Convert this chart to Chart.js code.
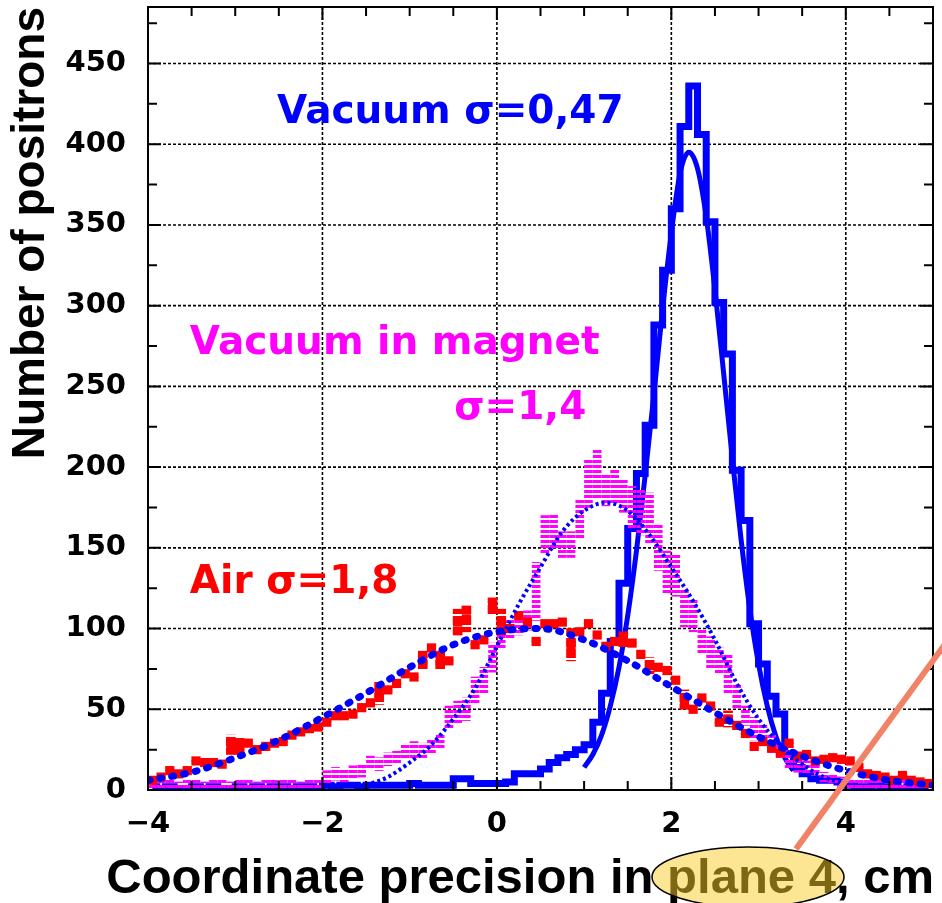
<!DOCTYPE html>
<html>
<head>
<meta charset="utf-8">
<script src="https://cdn.jsdelivr.net/npm/chart.js@4/dist/chart.umd.min.js"></script>
<style>
  body { margin: 0; background: #fff; }
  canvas { display: block; }
</style>
</head>
<body>
<canvas id="precisionChart" width="942" height="903"></canvas>
<script>
// Histograms use 0.1 cm bins from -4 to 5 cm (90 bins)
const vacuumCounts = [
  2, 1, 2, 1, 1, 2, 1, 2, 1, 1, 2, 1, 2, 1, 2, 2, 1, 2, 2, 1,
  3, 2, 3, 3, 2, 3, 3, 3, 3, 3, 4, 3, 3, 3, 3, 7, 7, 4, 4, 4,
  4, 5, 10, 10, 10, 13, 17, 20, 22, 25, 28, 42, 60, 92, 128, 162, 196, 226, 288, 322,
  360, 411, 436, 406, 352, 302, 270, 198, 167, 103, 78, 58, 47, 22, 14, 10, 7, 6, 6, 5,
  3, 2, 2, 3, 2, 2, 1, 2, 2, 1
];

const magnetCounts = [
  2, 3, 4, 2, 3, 3, 2, 4, 3, 2, 3, 4, 2, 3, 3, 4, 3, 2, 3, 4,
  8, 10, 9, 11, 12, 17, 16, 19, 20, 24, 25, 24, 27, 30, 45, 48, 50, 62, 68, 82,
  95, 100, 102, 105, 123, 158, 160, 152, 152, 168, 190, 196, 186, 188, 182, 175, 172, 168, 150, 135,
  133, 113, 108, 92, 85, 80, 72, 58, 46, 38, 35, 29, 24, 20, 17, 14, 13, 8, 7, 5,
  3, 4, 3, 3, 2, 3, 3, 2, 3, 3
];
const magnetErrors = [
  3, 3, 3, 3, 3, 3, 3, 3, 3, 3, 3, 3, 3, 3, 3, 3, 3, 3, 3, 3,
  4, 4, 4, 4, 4, 4, 4, 4, 4, 4, 5, 5, 5, 5, 7, 7, 7, 8, 8, 9,
  7, 6, 6, 6, 18, 12, 11, 8, 8, 12, 15, 15, 10, 10, 10, 13, 14, 16, 14, 13,
  13, 12, 10, 8, 10, 8, 12, 8, 6, 7, 6, 6, 5, 7, 6, 4, 4, 3, 3, 3,
  3, 3, 3, 3, 3, 3, 3, 3, 3, 3
];

const airCounts = [
  6, 8, 12, 10, 12, 18, 17, 17, 16, 28, 27, 29, 25, 27, 29, 30, 34, 36, 38, 39,
  42, 46, 46, 47, 51, 54, 60, 62, 66, 72, 70, 80, 88, 80, 80, 104, 106, 90, 93, 114,
  104, 100, 108, 104, 92, 103, 103, 104, 90, 98, 103, 96, 89, 92, 93, 91, 84, 77, 76, 74,
  68, 56, 50, 57, 52, 42, 44, 40, 35, 27, 30, 26, 23, 29, 21, 22, 18, 19, 20, 19,
  18, 14, 10, 9, 8, 6, 9, 6, 5, 4
];
// only the wider error bars show up as extra squares
const airErrors = [
  0, 0, 0, 0, 0, 0, 0, 0, 0, 6, 5, 0, 0, 0, 0, 0, 0, 0, 0, 0,
  0, 0, 0, 0, 0, 0, 7, 0, 0, 0, 0, 6, 0, 6, 0, 8, 8, 0, 0, 5,
  8, 0, 0, 0, 0, 0, 0, 0, 10, 0, 0, 0, 0, 0, 5, 0, 0, 5, 0, 0,
  0, 6, 0, 0, 0, 0, 5, 0, 0, 0, 0, 0, 0, 0, 0, 0, 0, 0, 0, 0,
  0, 0, 0, 0, 0, 0, 0, 0, 0, 0
];

// Gaussian fits, sampled along each curve
const vacuumFitX = [1.0, 1.1, 1.2, 1.3, 1.4, 1.5, 1.6, 1.7, 1.8, 1.9, 2.0, 2.1, 2.2, 2.3, 2.4, 2.5, 2.6, 2.7, 2.8, 2.9, 3.0, 3.1, 3.2, 3.3, 3.4];
const vacuumFitY = [14, 22, 34, 52, 76, 108, 148, 195, 245, 298, 345, 382, 395, 385, 355, 310, 258, 205, 155, 112, 78, 52, 33, 20, 12];

const magnetFitX = [-1.5, -1.25, -1, -0.75, -0.5, -0.25, 0, 0.25, 0.5, 0.75, 1, 1.25, 1.5, 1.75, 2, 2.25, 2.5, 2.75, 3, 3.25, 3.5, 3.75, 4];
const magnetFitY = [3, 8, 17, 28, 44, 63, 89, 115, 138, 160, 173, 178, 173, 158, 138, 117, 93, 66, 44, 28, 16, 8, 4];

const airFitX = [-4, -3.5, -3, -2.5, -2, -1.5, -1, -0.5, 0, 0.5, 1, 1.5, 2, 2.5, 3, 3.5, 4, 4.5, 5];
const airFitY = [6, 11, 20, 31, 45, 60, 76, 90, 98, 100, 93, 80, 64, 48, 33, 21, 12, 6, 3];

const xGridValues = [-2, 0, 2, 4];
const yGridValues = [50, 100, 150, 200, 250, 300, 350, 400, 450];

const BLUE = '#0000ff';
const MAGENTA = '#ff00ff';
const RED = '#ff0000';

const binCentres = vacuumCounts.map((_, i) => +(-3.95 + 0.1 * i).toFixed(2));

const canvas = document.getElementById('precisionChart');
const ctx = canvas.getContext('2d');

// error bars are drawn with a thick dashed pen: stacked dashes for magenta, squares for red
function dashPattern(color, w, h, dash) {
  const tile = document.createElement('canvas');
  tile.width = w;
  tile.height = h;
  const t = tile.getContext('2d');
  t.fillStyle = color;
  t.fillRect(0, 0, w, dash);
  return ctx.createPattern(tile, 'repeat');
}

function errorBoxes(counts, errors) {
  return counts.map((v, i) => ({x: binCentres[i], y: [Math.max(0, v - errors[i]), v + errors[i]]}));
}

function points(xs, ys) {
  return xs.map((x, i) => ({x: x, y: ys[i]}));
}

const frameAndGrid = {
  id: 'frameAndGrid',
  beforeDatasetsDraw(chart) {
    const {ctx, chartArea: a, scales: {x, y}} = chart;
    ctx.save();
    ctx.strokeStyle = '#000';
    ctx.lineWidth = 1.6;
    ctx.setLineDash([3, 2]);
    ctx.beginPath();
    xGridValues.forEach(v => {
      const px = x.getPixelForValue(v);
      ctx.moveTo(px, a.top);
      ctx.lineTo(px, a.bottom);
    });
    yGridValues.forEach(v => {
      const py = y.getPixelForValue(v);
      ctx.moveTo(a.left, py);
      ctx.lineTo(a.right, py);
    });
    ctx.stroke();
    ctx.restore();
  },
  afterDatasetsDraw(chart) {
    const {ctx, chartArea: a, scales: {x, y}} = chart;
    ctx.save();
    ctx.strokeStyle = '#000';
    ctx.lineWidth = 2;
    ctx.beginPath();
    // inward ticks every 0.5 cm and every 25 counts
    for (let v = -4; v <= 5.001; v += 0.5) {
      const px = x.getPixelForValue(v);
      const len = xGridValues.includes(v) ? 13 : 9;
      ctx.moveTo(px, a.bottom);
      ctx.lineTo(px, a.bottom - len);
      ctx.moveTo(px, a.top);
      ctx.lineTo(px, a.top + len);
    }
    for (let v = 0; v <= 475; v += 25) {
      const py = y.getPixelForValue(v);
      const len = v % 50 === 0 ? 13 : 9;
      ctx.moveTo(a.left, py);
      ctx.lineTo(a.left + len, py);
      ctx.moveTo(a.right, py);
      ctx.lineTo(a.right - len, py);
    }
    ctx.stroke();
    ctx.strokeRect(a.left, a.top, a.right - a.left, a.bottom - a.top);
    ctx.restore();
  }
};

const labelsAndMarks = {
  id: 'labelsAndMarks',
  afterDraw(chart) {
    const {ctx, chartArea: a, scales: {x, y}} = chart;
    ctx.save();
    ctx.font = 'bold 39px "DejaVu Sans"';
    ctx.textBaseline = 'alphabetic';
    ctx.textAlign = 'left';
    ctx.fillStyle = BLUE;
    ctx.fillText('Vacuum σ=0,47', x.getPixelForValue(-2.52), y.getPixelForValue(413));
    ctx.fillStyle = MAGENTA;
    ctx.fillText('Vacuum in magnet', x.getPixelForValue(-3.52), y.getPixelForValue(270));
    ctx.fillText('σ=1,4', x.getPixelForValue(-0.49), y.getPixelForValue(230));
    ctx.fillStyle = RED;
    ctx.fillText('Air σ=1,8', x.getPixelForValue(-3.52), y.getPixelForValue(122));

    // x axis title runs wider than the plot, so it is drawn here
    ctx.font = 'bold 49px "Liberation Sans"';
    ctx.textAlign = 'right';
    ctx.fillStyle = '#000';
    ctx.fillText('Coordinate precision in plane 4, cm', a.right + 1, 893);

    // highlight around "plane 4" and the pointer line
    ctx.beginPath();
    ctx.ellipse(748, 877, 96, 30, 0, 0, Math.PI * 2);
    ctx.fillStyle = 'rgba(250, 205, 40, 0.5)';
    ctx.fill();
    ctx.lineWidth = 1.5;
    ctx.strokeStyle = '#000';
    ctx.stroke();

    ctx.beginPath();
    ctx.moveTo(796, 849);
    ctx.lineTo(948, 640);
    ctx.lineWidth = 6;
    ctx.strokeStyle = 'rgb(242, 130, 102)';
    ctx.stroke();
    ctx.restore();
  }
};

const tickFont = {family: '"DejaVu Sans"', weight: 'bold', size: 29};

new Chart(ctx, {
  type: 'line',
  data: {
    datasets: [
      {
        label: 'Air fit',
        type: 'line',
        data: points(airFitX, airFitY),
        borderColor: BLUE,
        borderWidth: 7,
        borderDash: [2, 10],
        borderCapStyle: 'round',
        cubicInterpolationMode: 'monotone',
        pointRadius: 0,
        order: 0
      },
      {
        label: 'Vacuum in magnet fit',
        type: 'line',
        data: points(magnetFitX, magnetFitY),
        borderColor: BLUE,
        borderWidth: 4,
        borderDash: [3, 3],
        cubicInterpolationMode: 'monotone',
        pointRadius: 0,
        order: 1
      },
      {
        label: 'Air',
        type: 'scatter',
        data: points(binCentres, airCounts),
        backgroundColor: RED,
        borderWidth: 0,
        pointStyle: 'rect',
        pointRadius: 6.5,
        order: 2
      },
      {
        label: 'Air errors',
        type: 'bar',
        data: errorBoxes(airCounts, airErrors),
        backgroundColor: dashPattern(RED, 9, 11, 9),
        borderWidth: 0,
        barThickness: 9,
        grouped: false,
        order: 2
      },
      {
        label: 'Vacuum in magnet',
        type: 'bar',
        data: errorBoxes(magnetCounts, magnetErrors),
        backgroundColor: dashPattern(MAGENTA, 8, 5, 3),
        borderWidth: 0,
        barThickness: 8,
        grouped: false,
        order: 3
      },
      {
        label: 'Vacuum fit',
        type: 'line',
        data: points(vacuumFitX, vacuumFitY),
        borderColor: BLUE,
        borderWidth: 5,
        cubicInterpolationMode: 'monotone',
        pointRadius: 0,
        order: 4
      },
      {
        label: 'Vacuum',
        type: 'line',
        data: points(binCentres, vacuumCounts),
        borderColor: BLUE,
        borderWidth: 7,
        stepped: 'middle',
        borderJoinStyle: 'miter',
        pointRadius: 0,
        order: 5
      }
    ]
  },
  options: {
    responsive: false,
    animation: false,
    devicePixelRatio: 1,
    layout: {padding: {top: 7, right: 9, left: 0, bottom: 0}},
    plugins: {
      legend: {display: false},
      tooltip: {enabled: false}
    },
    scales: {
      x: {
        type: 'linear',
        min: -4,
        max: 5,
        offset: false,
        grid: {display: false, drawTicks: false},
        border: {display: false},
        ticks: {
          stepSize: 2,
          includeBounds: false,
          autoSkip: false,
          maxRotation: 0,
          padding: 17,
          color: '#000',
          font: tickFont,
          callback: v => v < 0 ? '\u2212' + Math.abs(v) : String(v)
        },
        afterFit(scale) {
          scale.height = 113;
          scale.paddingLeft = 0;
          scale.paddingRight = 0;
        }
      },
      y: {
        type: 'linear',
        min: 0,
        max: 485,
        grid: {display: false, drawTicks: false},
        border: {display: false},
        ticks: {
          stepSize: 50,
          includeBounds: false,
          padding: 22,
          color: '#000',
          font: tickFont
        },
        title: {
          display: true,
          text: 'Number of positrons',
          align: 'end',
          color: '#000',
          padding: {top: 6, bottom: 0},
          font: {family: '"Liberation Sans"', weight: 'bold', size: 46, lineHeight: 1.1}
        },
        afterFit(scale) {
          scale.width = 148;
          scale.paddingTop = 0;
          scale.paddingBottom = 0;
        }
      }
    }
  },
  plugins: [frameAndGrid, labelsAndMarks]
});
</script>
</body>
</html>
